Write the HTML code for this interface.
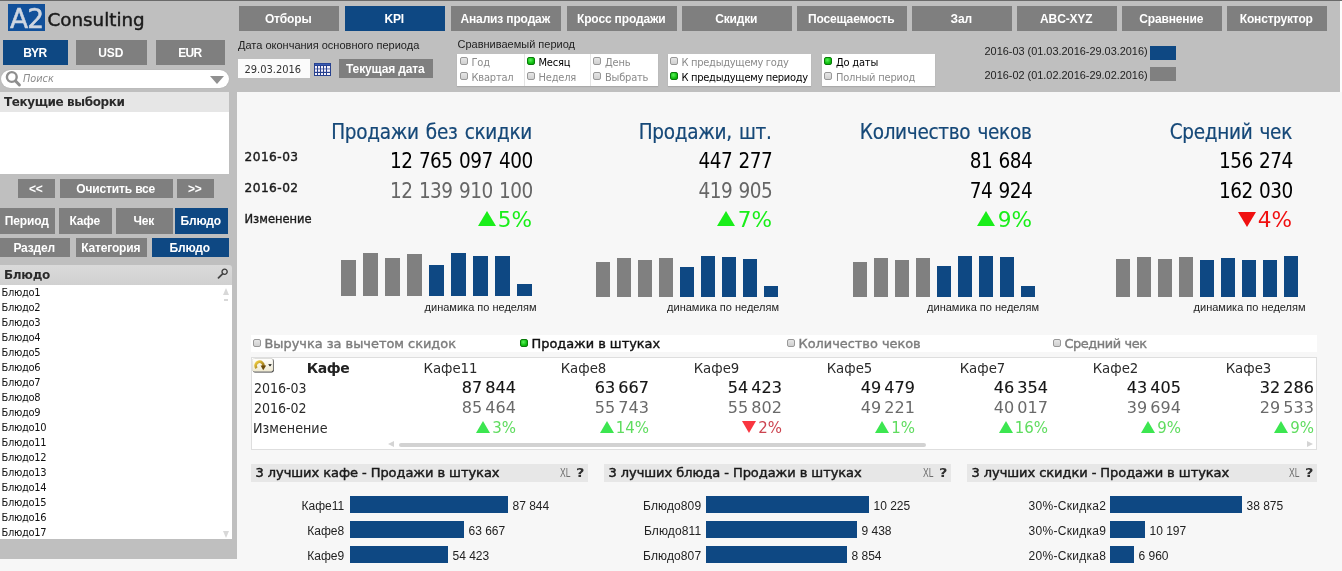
<!DOCTYPE html>
<html lang="ru"><head><meta charset="utf-8"><title>KPI</title>
<style>
*{box-sizing:border-box;margin:0;padding:0}
html,body{width:1342px;height:571px;overflow:hidden;background:#f7f7f7}
body{position:relative;font-family:"Liberation Sans",sans-serif;font-size:12px;color:#000}
.abs,.btn,.t,.bar,.box{position:absolute}
.ar{font-family:"Liberation Sans",sans-serif}
.vd{font-family:"DejaVu Sans",sans-serif}
.th{font-family:"DejaVu Sans Condensed","DejaVu Sans",sans-serif}
.btn{background:#7f7f7f;color:#fff;font:bold 12px "Liberation Sans",sans-serif;text-align:center;white-space:nowrap;letter-spacing:-0.15px}
.btn.on{background:#0e4883}
.t{white-space:nowrap;line-height:1}
.r{text-align:right}
.c{text-align:center}
.bar{background:#0e4883}
.bar.g{background:#808080}
.box{background:#fff}
.rad{position:absolute;width:8px;height:8px;border-radius:2px;border:1px solid #989898;background:linear-gradient(#e6e6e6,#d0d0d0)}
.rad.on{border-color:#0a7a0a;background:radial-gradient(circle at 40% 35%,#5cf05c,#10c010 60%,#0a9a0a)}
.tri{position:absolute;width:0;height:0;border-style:solid}
</style></head><body>

<div class="abs" style="left:0;top:0;width:237px;height:559px;background:#bfbfbf"></div>
<div class="abs" style="left:0;top:0;width:1340px;height:92px;background:#bfbfbf"></div><div class="abs" style="left:1340px;top:1px;width:2px;height:91px;background:#fcfcfc"></div>
<div class="abs" style="left:0;top:0;width:1342px;height:1px;background:#6a6a6a"></div>
<div class="abs" style="left:8px;top:4px;width:37px;height:27px;background:#11509a"></div>
<div class="t vd" style="left:10px;top:5.5px;font-size:26.5px;color:#cfd6e0;letter-spacing:-1px;-webkit-text-stroke:0.5px #cfd6e0">A2</div>
<div class="t vd" style="left:47.5px;top:11px;font-size:18.3px;color:#1a1a1a;-webkit-text-stroke:0.45px #1a1a1a">Consulting</div>
<div class="btn on" style="left:3px;top:40px;width:65px;height:25px;line-height:25px;padding-top:1px;padding-right:1.5px;font-size:12px;letter-spacing:-0.7px">BYR</div>
<div class="btn" style="left:76px;top:40px;width:71px;height:25px;line-height:25px;padding-top:1px;padding-right:1.5px;font-size:12px">USD</div>
<div class="btn" style="left:156px;top:40px;width:69px;height:25px;line-height:25px;padding-top:1px;padding-right:1.5px;font-size:12px;letter-spacing:-0.7px">EUR</div>
<div class="abs" style="left:1px;top:70px;width:228px;height:18px;border-radius:9px;background:#fff;box-shadow:0 0 1px #999"></div>
<svg class="abs" style="left:4px;top:70px" width="18" height="18" viewBox="0 0 18 18"><circle cx="7.8" cy="7" r="4.9" fill="none" stroke="#8e8e8e" stroke-width="2.4"/><line x1="11.6" y1="11" x2="15.4" y2="15" stroke="#8e8e8e" stroke-width="3" stroke-linecap="round"/></svg>
<div class="t th" style="left:23px;top:74px;font-size:10.8px;font-style:italic;color:#8c8c8c">Поиск</div>
<div class="tri" style="left:210px;top:76px;border-width:8px 7.5px 0 7.5px;border-color:#909090 transparent transparent transparent"></div>
<div class="abs" style="left:0;top:92px;width:229px;height:20px;background:#e6e6e6"></div>
<div class="t vd" style="left:4px;top:96px;font-size:12px;font-weight:bold;color:#2a2a2a;letter-spacing:-0.4px">Текущие выборки</div>
<div class="box" style="left:0;top:112px;width:229px;height:61.5px"></div>
<div class="btn" style="left:18px;top:179px;width:37px;height:19px;line-height:19px;padding-top:1px;padding-right:1.5px;font-size:12px">&lt;&lt;</div>
<div class="btn" style="left:60px;top:179px;width:113px;height:19px;line-height:19px;padding-top:1px;padding-right:1.5px;font-size:12px">Очистить все</div>
<div class="btn" style="left:177px;top:179px;width:37px;height:19px;line-height:19px;padding-top:1px;padding-right:1.5px;font-size:12px">&gt;&gt;</div>
<div class="btn" style="left:0px;top:208px;width:55px;height:26px;line-height:26px;padding-top:0px;padding-right:1.5px;font-size:12px">Период</div>
<div class="btn" style="left:59px;top:208px;width:53px;height:26px;line-height:26px;padding-top:0px;padding-right:1.5px;font-size:12px">Кафе</div>
<div class="btn" style="left:116px;top:208px;width:57px;height:26px;line-height:26px;padding-top:0px;padding-right:1.5px;font-size:12px">Чек</div>
<div class="btn on" style="left:175px;top:208px;width:53px;height:26px;line-height:26px;padding-top:0px;padding-right:1.5px;font-size:12px">Блюдо</div>
<div class="btn" style="left:0px;top:238px;width:70px;height:19px;line-height:19px;padding-top:1px;padding-right:1.5px;font-size:12px">Раздел</div>
<div class="btn" style="left:76px;top:238px;width:71px;height:19px;line-height:19px;padding-top:1px;padding-right:1.5px;font-size:12px">Категория</div>
<div class="btn on" style="left:152px;top:238px;width:77px;height:19px;line-height:19px;padding-top:1px;padding-right:1.5px;font-size:12px">Блюдо</div>
<div class="abs" style="left:0;top:264.5px;width:231.5px;height:20.5px;background:linear-gradient(#dadada,#d0d0d0);border-top-right-radius:3px"></div>
<div class="t vd" style="left:4px;top:269px;font-size:12px;font-weight:bold;color:#2a2a2a;letter-spacing:-0.3px">Блюдо</div>
<svg class="abs" style="left:217px;top:268px" width="12" height="11" viewBox="0 0 12 11"><circle cx="7.6" cy="3.8" r="2.6" fill="#d6d6d6" stroke="#3a3a3a" stroke-width="1.3"/><line x1="5.6" y1="5.8" x2="1.5" y2="9.8" stroke="#444" stroke-width="1.8" stroke-linecap="round"/></svg>
<div class="box" style="left:0;top:285px;width:231.5px;height:254px"></div>
<div class="t th" style="left:1.5px;top:287px;font-size:11px;letter-spacing:-0.3px;color:#111">Блюдо1</div>
<div class="t th" style="left:1.5px;top:302px;font-size:11px;letter-spacing:-0.3px;color:#111">Блюдо2</div>
<div class="t th" style="left:1.5px;top:317px;font-size:11px;letter-spacing:-0.3px;color:#111">Блюдо3</div>
<div class="t th" style="left:1.5px;top:332px;font-size:11px;letter-spacing:-0.3px;color:#111">Блюдо4</div>
<div class="t th" style="left:1.5px;top:347px;font-size:11px;letter-spacing:-0.3px;color:#111">Блюдо5</div>
<div class="t th" style="left:1.5px;top:362px;font-size:11px;letter-spacing:-0.3px;color:#111">Блюдо6</div>
<div class="t th" style="left:1.5px;top:377px;font-size:11px;letter-spacing:-0.3px;color:#111">Блюдо7</div>
<div class="t th" style="left:1.5px;top:392px;font-size:11px;letter-spacing:-0.3px;color:#111">Блюдо8</div>
<div class="t th" style="left:1.5px;top:407px;font-size:11px;letter-spacing:-0.3px;color:#111">Блюдо9</div>
<div class="t th" style="left:1.5px;top:422px;font-size:11px;letter-spacing:-0.3px;color:#111">Блюдо10</div>
<div class="t th" style="left:1.5px;top:437px;font-size:11px;letter-spacing:-0.3px;color:#111">Блюдо11</div>
<div class="t th" style="left:1.5px;top:452px;font-size:11px;letter-spacing:-0.3px;color:#111">Блюдо12</div>
<div class="t th" style="left:1.5px;top:467px;font-size:11px;letter-spacing:-0.3px;color:#111">Блюдо13</div>
<div class="t th" style="left:1.5px;top:482px;font-size:11px;letter-spacing:-0.3px;color:#111">Блюдо14</div>
<div class="t th" style="left:1.5px;top:497px;font-size:11px;letter-spacing:-0.3px;color:#111">Блюдо15</div>
<div class="t th" style="left:1.5px;top:512px;font-size:11px;letter-spacing:-0.3px;color:#111">Блюдо16</div>
<div class="t th" style="left:1.5px;top:527px;font-size:11px;letter-spacing:-0.3px;color:#111">Блюдо17</div>
<div class="tri" style="left:223px;top:288px;border-width:0 3px 7px 3px;border-color:transparent transparent #d8d8d8 transparent"></div>
<div class="abs" style="left:224px;top:299px;width:4px;height:2px;background:#d8d8d8"></div>
<div class="tri" style="left:222.5px;top:530.5px;border-width:7px 3px 0 3px;border-color:#d8d8d8 transparent transparent transparent"></div>
<div class="btn" style="left:239px;top:6px;width:100px;height:25px;line-height:25px;padding-top:1px;padding-right:1.5px;font-size:12px">Отборы</div>
<div class="btn on" style="left:345px;top:6px;width:100px;height:25px;line-height:25px;padding-top:1px;padding-right:1.5px;font-size:12px">KPI</div>
<div class="btn" style="left:451px;top:6px;width:110px;height:25px;line-height:25px;padding-top:1px;padding-right:1.5px;font-size:12px">Анализ продаж</div>
<div class="btn" style="left:567px;top:6px;width:110px;height:25px;line-height:25px;padding-top:1px;padding-right:1.5px;font-size:12px">Кросс продажи</div>
<div class="btn" style="left:682px;top:6px;width:110px;height:25px;line-height:25px;padding-top:1px;padding-right:1.5px;font-size:12px">Скидки</div>
<div class="btn" style="left:797px;top:6px;width:110px;height:25px;line-height:25px;padding-top:1px;padding-right:1.5px;font-size:12px">Посещаемость</div>
<div class="btn" style="left:912px;top:6px;width:100px;height:25px;line-height:25px;padding-top:1px;padding-right:1.5px;font-size:12px">Зал</div>
<div class="btn" style="left:1017px;top:6px;width:100px;height:25px;line-height:25px;padding-top:1px;padding-right:1.5px;font-size:12px">ABC-XYZ</div>
<div class="btn" style="left:1122px;top:6px;width:100px;height:25px;line-height:25px;padding-top:1px;padding-right:1.5px;font-size:12px">Сравнение</div>
<div class="btn" style="left:1227px;top:6px;width:100px;height:25px;line-height:25px;padding-top:1px;padding-right:1.5px;font-size:12px">Конструктор</div>
<div class="t ar" style="left:238px;top:40px;font-size:11px;color:#222">Дата окончания основного периода</div>
<div class="box" style="left:238px;top:59px;width:72px;height:19px;background:#fbfbfb"></div>
<div class="t th" style="left:244.5px;top:63.5px;font-size:11px;color:#333">29.03.2016</div>
<svg class="abs" style="left:314px;top:63px" width="17" height="13" viewBox="0 0 17 13"><rect x="0" y="0" width="17" height="13" fill="#27418f"/><rect x="1" y="0.8" width="15" height="1.2" fill="#3a5cb4"/><rect x="1" y="3" width="2" height="2.6" fill="#f4f0fa"/><rect x="1" y="6.3" width="2" height="2.5" fill="#f4f0fa"/><rect x="1" y="10" width="2" height="2" fill="#f4f0fa"/><rect x="4" y="3" width="2" height="2.6" fill="#f4f0fa"/><rect x="4" y="6.3" width="2" height="2.5" fill="#f4f0fa"/><rect x="4" y="10" width="2" height="2" fill="#f4f0fa"/><rect x="7" y="3" width="2" height="2.6" fill="#f4f0fa"/><rect x="7" y="6.3" width="2" height="2.5" fill="#f4f0fa"/><rect x="7" y="10" width="2" height="2" fill="#f4f0fa"/><rect x="10" y="3" width="2" height="2.6" fill="#f4f0fa"/><rect x="10" y="6.3" width="2" height="2.5" fill="#f4f0fa"/><rect x="10" y="10" width="2" height="2" fill="#f4f0fa"/><rect x="13" y="3" width="3" height="2.6" fill="#f4f0fa"/><rect x="13" y="6.3" width="3" height="2.5" fill="#f4f0fa"/><rect x="13" y="10" width="3" height="2" fill="#f4f0fa"/></svg>
<div class="btn" style="left:339px;top:59px;width:94px;height:19px;line-height:19px;padding-top:1px;padding-right:1.5px;font-size:12px">Текущая дата</div>
<div class="t ar" style="left:457.5px;top:39px;font-size:11px;color:#222">Сравниваемый период</div>
<div class="box" style="left:457px;top:54px;width:201px;height:32px;box-shadow:0 1px 1px #aaa"></div>
<div class="abs" style="left:524px;top:54px;width:1px;height:32px;background:#e4e4e4"></div>
<div class="abs" style="left:590px;top:54px;width:1px;height:32px;background:#e4e4e4"></div>
<div class="rad" style="left:460px;top:57px"></div>
<div class="t th" style="left:471.5px;top:57px;font-size:11px;color:#8a8a8a;letter-spacing:-0.2px">Год</div>
<div class="rad" style="left:460px;top:72px"></div>
<div class="t th" style="left:471.5px;top:72px;font-size:11px;color:#8a8a8a;letter-spacing:-0.2px">Квартал</div>
<div class="rad on" style="left:527px;top:57px"></div>
<div class="t th" style="left:538.5px;top:57px;font-size:11px;color:#000;letter-spacing:-0.2px">Месяц</div>
<div class="rad" style="left:527px;top:72px"></div>
<div class="t th" style="left:538.5px;top:72px;font-size:11px;color:#8a8a8a;letter-spacing:-0.2px">Неделя</div>
<div class="rad" style="left:593px;top:57px"></div>
<div class="t th" style="left:605px;top:57px;font-size:11px;color:#8a8a8a;letter-spacing:-0.2px">День</div>
<div class="rad" style="left:593px;top:72px"></div>
<div class="t th" style="left:605px;top:72px;font-size:11px;color:#8a8a8a;letter-spacing:-0.2px">Выбрать</div>
<div class="box" style="left:668px;top:54px;width:143px;height:32px;box-shadow:0 1px 1px #aaa"></div>
<div class="rad" style="left:670px;top:57px"></div>
<div class="t th" style="left:681.5px;top:57px;font-size:11px;color:#8a8a8a;letter-spacing:-0.28px">К предыдущему году</div>
<div class="rad on" style="left:670px;top:72px"></div>
<div class="t th" style="left:681.5px;top:72px;font-size:11px;color:#000;letter-spacing:-0.28px">К предыдущему периоду</div>
<div class="box" style="left:822px;top:54px;width:113px;height:32px;box-shadow:0 1px 1px #aaa"></div>
<div class="rad on" style="left:824px;top:57px"></div>
<div class="t th" style="left:836px;top:57px;font-size:11px;color:#000;letter-spacing:-0.2px">До даты</div>
<div class="rad" style="left:824px;top:72px"></div>
<div class="t th" style="left:836px;top:72px;font-size:11px;color:#8a8a8a;letter-spacing:-0.2px">Полный период</div>
<div class="t ar" style="left:984.5px;top:46px;font-size:10.92px;color:#222">2016-03 (01.03.2016-29.03.2016)</div>
<div class="t ar" style="left:984.5px;top:70px;font-size:10.92px;color:#222">2016-02 (01.02.2016-29.02.2016)</div>
<div class="abs" style="left:1150px;top:46px;width:26px;height:14px;background:#0e4883"></div>
<div class="abs" style="left:1150px;top:67px;width:26px;height:14px;background:#808080"></div>
<div class="t vd" style="left:244.5px;top:151px;font-size:12.2px;color:#1a1a1a;letter-spacing:0.45px;-webkit-text-stroke:0.4px #1a1a1a">2016-03</div>
<div class="t vd" style="left:244.5px;top:182px;font-size:12.2px;color:#1a1a1a;letter-spacing:0.45px;-webkit-text-stroke:0.4px #1a1a1a">2016-02</div>
<div class="t vd" style="left:244.5px;top:214px;font-size:11.5px;color:#1a1a1a;-webkit-text-stroke:0.35px #1a1a1a">Изменение</div>
<div class="t th r" style="left:132px;width:400px;top:122px;font-size:20.5px;letter-spacing:-0.3px;word-spacing:1.6px;color:#154878;-webkit-text-stroke:0.2px #154878">Продажи без скидки</div>
<div class="t th r" style="left:132px;width:400px;top:151px;font-size:20.5px;letter-spacing:-0.5px;word-spacing:1px;margin-left:0.7px;color:#000">12 765 097 400</div>
<div class="t th r" style="left:132px;width:400px;top:181px;font-size:20.5px;letter-spacing:-0.5px;word-spacing:1px;margin-left:0.7px;color:#666">12 139 910 100</div>
<div class="t th r" style="left:132px;width:400px;top:210px;font-size:20.5px;color:#1aee1a;transform:scaleX(1.17);transform-origin:right">5%</div>
<div class="tri" style="left:478px;top:211px;border-width:0 9px 15px 9px;border-color:transparent transparent #1aee1a transparent"></div>
<div class="t th r" style="left:371.5px;width:400px;top:122px;font-size:20.5px;letter-spacing:-0.3px;word-spacing:1.6px;color:#154878;-webkit-text-stroke:0.2px #154878">Продажи, шт.</div>
<div class="t th r" style="left:371.5px;width:400px;top:151px;font-size:20.5px;letter-spacing:-0.5px;word-spacing:1px;margin-left:0.7px;color:#000">447 277</div>
<div class="t th r" style="left:371.5px;width:400px;top:181px;font-size:20.5px;letter-spacing:-0.5px;word-spacing:1px;margin-left:0.7px;color:#666">419 905</div>
<div class="t th r" style="left:371.5px;width:400px;top:210px;font-size:20.5px;color:#1aee1a;transform:scaleX(1.17);transform-origin:right">7%</div>
<div class="tri" style="left:717px;top:211px;border-width:0 9px 15px 9px;border-color:transparent transparent #1aee1a transparent"></div>
<div class="t th r" style="left:631.5px;width:400px;top:122px;font-size:20.5px;letter-spacing:-0.3px;word-spacing:1.6px;color:#154878;-webkit-text-stroke:0.2px #154878">Количество чеков</div>
<div class="t th r" style="left:631.5px;width:400px;top:151px;font-size:20.5px;letter-spacing:-0.5px;word-spacing:1px;margin-left:0.7px;color:#000">81 684</div>
<div class="t th r" style="left:631.5px;width:400px;top:181px;font-size:20.5px;letter-spacing:-0.5px;word-spacing:1px;margin-left:0.7px;color:#000">74 924</div>
<div class="t th r" style="left:631.5px;width:400px;top:210px;font-size:20.5px;color:#1aee1a;transform:scaleX(1.17);transform-origin:right">9%</div>
<div class="tri" style="left:976.5px;top:211px;border-width:0 9px 15px 9px;border-color:transparent transparent #1aee1a transparent"></div>
<div class="t th r" style="left:892px;width:400px;top:122px;font-size:20.5px;letter-spacing:-0.3px;word-spacing:1.6px;color:#154878;-webkit-text-stroke:0.2px #154878">Средний чек</div>
<div class="t th r" style="left:892px;width:400px;top:151px;font-size:20.5px;letter-spacing:-0.5px;word-spacing:1px;margin-left:0.7px;color:#000">156 274</div>
<div class="t th r" style="left:892px;width:400px;top:181px;font-size:20.5px;letter-spacing:-0.5px;word-spacing:1px;margin-left:0.7px;color:#000">162 030</div>
<div class="t th r" style="left:892px;width:400px;top:210px;font-size:20.5px;color:#f01010;transform:scaleX(1.17);transform-origin:right">4%</div>
<div class="tri" style="left:1238px;top:212px;border-width:15px 9px 0 9px;border-color:#f01010 transparent transparent transparent"></div>
<div class="bar g" style="left:341px;top:260px;width:15px;height:36px"></div>
<div class="bar g" style="left:363px;top:253px;width:15px;height:43px"></div>
<div class="bar g" style="left:385px;top:258px;width:15px;height:38px"></div>
<div class="bar g" style="left:407px;top:254px;width:15px;height:42px"></div>
<div class="bar" style="left:429px;top:265px;width:15px;height:31px"></div>
<div class="bar" style="left:451px;top:253px;width:15px;height:43px"></div>
<div class="bar" style="left:473px;top:256px;width:15px;height:40px"></div>
<div class="bar" style="left:495px;top:256px;width:15px;height:40px"></div>
<div class="bar" style="left:517px;top:284px;width:15px;height:12px"></div>
<div class="t ar r" style="left:336.5px;width:200px;top:302px;font-size:11px;color:#222">динамика по неделям</div>
<div class="bar g" style="left:596px;top:262px;width:14px;height:35px"></div>
<div class="bar g" style="left:617px;top:258px;width:14px;height:39px"></div>
<div class="bar g" style="left:638px;top:260px;width:14px;height:37px"></div>
<div class="bar g" style="left:659px;top:258px;width:14px;height:39px"></div>
<div class="bar" style="left:680px;top:267px;width:14px;height:30px"></div>
<div class="bar" style="left:701px;top:256px;width:14px;height:41px"></div>
<div class="bar" style="left:722px;top:257px;width:14px;height:40px"></div>
<div class="bar" style="left:743px;top:259px;width:14px;height:38px"></div>
<div class="bar" style="left:764px;top:286px;width:14px;height:11px"></div>
<div class="t ar r" style="left:579px;width:200px;top:302px;font-size:11px;color:#222">динамика по неделям</div>
<div class="bar g" style="left:853px;top:262px;width:14px;height:35px"></div>
<div class="bar g" style="left:874px;top:258px;width:14px;height:39px"></div>
<div class="bar g" style="left:895px;top:260px;width:14px;height:37px"></div>
<div class="bar g" style="left:916px;top:258px;width:14px;height:39px"></div>
<div class="bar" style="left:937px;top:266px;width:14px;height:31px"></div>
<div class="bar" style="left:958px;top:256px;width:14px;height:41px"></div>
<div class="bar" style="left:979px;top:256px;width:14px;height:41px"></div>
<div class="bar" style="left:1000px;top:257px;width:14px;height:40px"></div>
<div class="bar" style="left:1021px;top:286px;width:14px;height:11px"></div>
<div class="t ar r" style="left:839px;width:200px;top:302px;font-size:11px;color:#222">динамика по неделям</div>
<div class="bar g" style="left:1116px;top:259px;width:14px;height:38px"></div>
<div class="bar g" style="left:1137px;top:257px;width:14px;height:40px"></div>
<div class="bar g" style="left:1158px;top:259px;width:14px;height:38px"></div>
<div class="bar g" style="left:1179px;top:257px;width:14px;height:40px"></div>
<div class="bar" style="left:1200px;top:260px;width:14px;height:37px"></div>
<div class="bar" style="left:1221px;top:258px;width:14px;height:39px"></div>
<div class="bar" style="left:1242px;top:260px;width:14px;height:37px"></div>
<div class="bar" style="left:1263px;top:260px;width:14px;height:37px"></div>
<div class="bar" style="left:1284px;top:256px;width:14px;height:41px"></div>
<div class="t ar r" style="left:1105.5px;width:200px;top:302px;font-size:11px;color:#222">динамика по неделям</div>
<div class="box" style="left:251px;top:335px;width:1066px;height:17px"></div>
<div class="rad" style="left:253px;top:339px"></div>
<div class="t vd" style="left:264.5px;top:338px;font-size:12.9px;letter-spacing:0px;color:#7d7d7d;-webkit-text-stroke:0.4px #7d7d7d">Выручка за вычетом скидок</div>
<div class="rad on" style="left:520px;top:339px"></div>
<div class="t vd" style="left:531.5px;top:338px;font-size:12.9px;letter-spacing:0px;color:#111;-webkit-text-stroke:0.4px #111">Продажи в штуках</div>
<div class="rad" style="left:787px;top:339px"></div>
<div class="t vd" style="left:798.5px;top:338px;font-size:12.9px;letter-spacing:0px;color:#7d7d7d;-webkit-text-stroke:0.4px #7d7d7d">Количество чеков</div>
<div class="rad" style="left:1053px;top:339px"></div>
<div class="t vd" style="left:1064.5px;top:338px;font-size:12.9px;letter-spacing:-0.42px;color:#7d7d7d;-webkit-text-stroke:0.4px #7d7d7d">Средний чек</div>
<div class="box" style="left:251px;top:357px;width:1066px;height:93px;border:1px solid #dedede"></div>
<svg class="abs" style="left:252px;top:358px" width="23" height="16" viewBox="0 0 23 16"><defs><linearGradient id="cb" x1="0" y1="0" x2="0" y2="1"><stop offset="0" stop-color="#ffffff"/><stop offset="1" stop-color="#efe9cf"/></linearGradient><linearGradient id="cg" x1="0" y1="0" x2="1" y2="1"><stop offset="0" stop-color="#f2d040"/><stop offset="1" stop-color="#8a6410"/></linearGradient></defs><rect x="0.8" y="0.8" width="21" height="13.6" rx="2.2" fill="#2c2c2c"/><rect x="0.3" y="0.4" width="20.7" height="13.2" rx="2" fill="url(#cb)" stroke="#d8d8d0" stroke-width="0.5"/><path d="M4.6 10.2 A3.9 3.9 0 1 1 11.4 8.2" fill="none" stroke="url(#cg)" stroke-width="2.7"/><path d="M8.6 7.6 L14.2 7.6 L11.2 12.3 Z" fill="#6b4a08"/><path d="M16.2 6.3 L19.8 6.3 L18 8.6 Z" fill="#111"/></svg>
<div class="t vd c" style="left:252px;width:152px;top:361px;font-size:14px;font-weight:bold;color:#222;letter-spacing:-0.5px">Кафе</div>
<div class="t th" style="left:254px;top:381px;font-size:14px;color:#2a2a2a">2016-03</div>
<div class="t th" style="left:254px;top:401px;font-size:14px;color:#2a2a2a">2016-02</div>
<div class="t th" style="left:253px;top:421px;font-size:14.2px;color:#2a2a2a">Изменение</div>
<div class="t th c" style="left:384px;width:133px;top:361px;font-size:14.8px;color:#2a2a2a">Кафе11</div>
<div class="t vd r" style="left:396px;width:120px;top:381px;font-size:15px;color:#151515;-webkit-text-stroke:0.12px #151515;word-spacing:-1.8px;transform:scaleX(1.07);transform-origin:right">87 844</div>
<div class="t vd r" style="left:396px;width:120px;top:401px;font-size:15px;color:#6a6a6a;word-spacing:-1.8px;transform:scaleX(1.07);transform-origin:right">85 464</div>
<div class="t vd r" style="left:396px;width:120px;top:421px;font-size:15px;color:#5fdc5f"><span style="display:inline-block;width:0;height:0;border-style:solid;border-width:0 7.5px 12.5px 7.5px;border-color:transparent transparent #3ce650 transparent;margin-right:2px;vertical-align:baseline"></span>3%</div>
<div class="t th c" style="left:517px;width:133px;top:361px;font-size:14.8px;color:#2a2a2a">Кафе8</div>
<div class="t vd r" style="left:529px;width:120px;top:381px;font-size:15px;color:#151515;-webkit-text-stroke:0.12px #151515;word-spacing:-1.8px;transform:scaleX(1.07);transform-origin:right">63 667</div>
<div class="t vd r" style="left:529px;width:120px;top:401px;font-size:15px;color:#6a6a6a;word-spacing:-1.8px;transform:scaleX(1.07);transform-origin:right">55 743</div>
<div class="t vd r" style="left:529px;width:120px;top:421px;font-size:15px;color:#5fdc5f"><span style="display:inline-block;width:0;height:0;border-style:solid;border-width:0 7.5px 12.5px 7.5px;border-color:transparent transparent #3ce650 transparent;margin-right:2px;vertical-align:baseline"></span>14%</div>
<div class="t th c" style="left:650px;width:133px;top:361px;font-size:14.8px;color:#2a2a2a">Кафе9</div>
<div class="t vd r" style="left:662px;width:120px;top:381px;font-size:15px;color:#151515;-webkit-text-stroke:0.12px #151515;word-spacing:-1.8px;transform:scaleX(1.07);transform-origin:right">54 423</div>
<div class="t vd r" style="left:662px;width:120px;top:401px;font-size:15px;color:#6a6a6a;word-spacing:-1.8px;transform:scaleX(1.07);transform-origin:right">55 802</div>
<div class="t vd r" style="left:662px;width:120px;top:421px;font-size:15px;color:#cc4450"><span style="display:inline-block;width:0;height:0;border-style:solid;border-width:12.5px 7.5px 0 7.5px;border-color:#f93640 transparent transparent transparent;margin-right:2px;vertical-align:baseline"></span>2%</div>
<div class="t th c" style="left:783px;width:133px;top:361px;font-size:14.8px;color:#2a2a2a">Кафе5</div>
<div class="t vd r" style="left:795px;width:120px;top:381px;font-size:15px;color:#151515;-webkit-text-stroke:0.12px #151515;word-spacing:-1.8px;transform:scaleX(1.07);transform-origin:right">49 479</div>
<div class="t vd r" style="left:795px;width:120px;top:401px;font-size:15px;color:#6a6a6a;word-spacing:-1.8px;transform:scaleX(1.07);transform-origin:right">49 221</div>
<div class="t vd r" style="left:795px;width:120px;top:421px;font-size:15px;color:#5fdc5f"><span style="display:inline-block;width:0;height:0;border-style:solid;border-width:0 7.5px 12.5px 7.5px;border-color:transparent transparent #3ce650 transparent;margin-right:2px;vertical-align:baseline"></span>1%</div>
<div class="t th c" style="left:916px;width:133px;top:361px;font-size:14.8px;color:#2a2a2a">Кафе7</div>
<div class="t vd r" style="left:928px;width:120px;top:381px;font-size:15px;color:#151515;-webkit-text-stroke:0.12px #151515;word-spacing:-1.8px;transform:scaleX(1.07);transform-origin:right">46 354</div>
<div class="t vd r" style="left:928px;width:120px;top:401px;font-size:15px;color:#6a6a6a;word-spacing:-1.8px;transform:scaleX(1.07);transform-origin:right">40 017</div>
<div class="t vd r" style="left:928px;width:120px;top:421px;font-size:15px;color:#5fdc5f"><span style="display:inline-block;width:0;height:0;border-style:solid;border-width:0 7.5px 12.5px 7.5px;border-color:transparent transparent #3ce650 transparent;margin-right:2px;vertical-align:baseline"></span>16%</div>
<div class="t th c" style="left:1049px;width:133px;top:361px;font-size:14.8px;color:#2a2a2a">Кафе2</div>
<div class="t vd r" style="left:1061px;width:120px;top:381px;font-size:15px;color:#151515;-webkit-text-stroke:0.12px #151515;word-spacing:-1.8px;transform:scaleX(1.07);transform-origin:right">43 405</div>
<div class="t vd r" style="left:1061px;width:120px;top:401px;font-size:15px;color:#6a6a6a;word-spacing:-1.8px;transform:scaleX(1.07);transform-origin:right">39 694</div>
<div class="t vd r" style="left:1061px;width:120px;top:421px;font-size:15px;color:#5fdc5f"><span style="display:inline-block;width:0;height:0;border-style:solid;border-width:0 7.5px 12.5px 7.5px;border-color:transparent transparent #3ce650 transparent;margin-right:2px;vertical-align:baseline"></span>9%</div>
<div class="t th c" style="left:1182px;width:133px;top:361px;font-size:14.8px;color:#2a2a2a">Кафе3</div>
<div class="t vd r" style="left:1194px;width:120px;top:381px;font-size:15px;color:#151515;-webkit-text-stroke:0.12px #151515;word-spacing:-1.8px;transform:scaleX(1.07);transform-origin:right">32 286</div>
<div class="t vd r" style="left:1194px;width:120px;top:401px;font-size:15px;color:#6a6a6a;word-spacing:-1.8px;transform:scaleX(1.07);transform-origin:right">29 533</div>
<div class="t vd r" style="left:1194px;width:120px;top:421px;font-size:15px;color:#5fdc5f"><span style="display:inline-block;width:0;height:0;border-style:solid;border-width:0 7.5px 12.5px 7.5px;border-color:transparent transparent #3ce650 transparent;margin-right:2px;vertical-align:baseline"></span>9%</div>
<div class="tri" style="left:388px;top:441px;border-width:3.5px 6px 3.5px 0;border-color:transparent #d4d4d4 transparent transparent"></div>
<div class="abs" style="left:399px;top:442.5px;width:527px;height:4px;border-radius:2px;background:#d2d2d2"></div>
<div class="tri" style="left:1307px;top:441px;border-width:3.5px 0 3.5px 6px;border-color:transparent transparent transparent #d4d4d4"></div>
<div class="abs" style="left:251px;top:464px;width:337px;height:18px;background:#e7e7e7"></div>
<div class="t vd" style="left:255.5px;top:466px;font-size:13px;color:#1a1a1a;letter-spacing:-0.06px;-webkit-text-stroke:0.45px #1a1a1a">3 лучших кафе - Продажи в штуках</div>
<div class="t ar" style="left:559.5px;top:465.5px;font-size:13px;color:#6e6e6e;transform:scaleX(0.66);transform-origin:left">XL</div>
<div class="t vd" style="left:575.5px;top:466px;font-size:13px;font-weight:bold;color:#303030;transform:scaleX(1.12);transform-origin:left">?</div>
<div class="t ar r" style="left:224.2px;width:120px;top:499.5px;font-size:12px;letter-spacing:0px;color:#222">Кафе11</div>
<div class="bar" style="left:350px;top:496px;width:158px;height:17px"></div>
<div class="t ar" style="left:512.5px;top:499.5px;font-size:12px;color:#222">87 844</div>
<div class="t ar r" style="left:224.2px;width:120px;top:524.5px;font-size:12px;letter-spacing:0px;color:#222">Кафе8</div>
<div class="bar" style="left:350px;top:521px;width:114px;height:17px"></div>
<div class="t ar" style="left:468.5px;top:524.5px;font-size:12px;color:#222">63 667</div>
<div class="t ar r" style="left:224.2px;width:120px;top:549.5px;font-size:12px;letter-spacing:0px;color:#222">Кафе9</div>
<div class="bar" style="left:350px;top:546px;width:98px;height:17px"></div>
<div class="t ar" style="left:452.5px;top:549.5px;font-size:12px;color:#222">54 423</div>
<div class="abs" style="left:604px;top:464px;width:347px;height:18px;background:#e7e7e7"></div>
<div class="t vd" style="left:608.5px;top:466px;font-size:13px;color:#1a1a1a;letter-spacing:-0.06px;-webkit-text-stroke:0.45px #1a1a1a">3 лучших блюда - Продажи в штуках</div>
<div class="t ar" style="left:922.5px;top:465.5px;font-size:13px;color:#6e6e6e;transform:scaleX(0.66);transform-origin:left">XL</div>
<div class="t vd" style="left:938.5px;top:466px;font-size:13px;font-weight:bold;color:#303030;transform:scaleX(1.12);transform-origin:left">?</div>
<div class="t ar r" style="left:581.2px;width:120px;top:499.5px;font-size:12px;letter-spacing:0.12px;color:#222">Блюдо809</div>
<div class="bar" style="left:706px;top:496px;width:163px;height:17px"></div>
<div class="t ar" style="left:873.5px;top:499.5px;font-size:12px;color:#222">10 225</div>
<div class="t ar r" style="left:581.2px;width:120px;top:524.5px;font-size:12px;letter-spacing:0.12px;color:#222">Блюдо811</div>
<div class="bar" style="left:706px;top:521px;width:151px;height:17px"></div>
<div class="t ar" style="left:861.5px;top:524.5px;font-size:12px;color:#222">9 438</div>
<div class="t ar r" style="left:581.2px;width:120px;top:549.5px;font-size:12px;letter-spacing:0.12px;color:#222">Блюдо807</div>
<div class="bar" style="left:706px;top:546px;width:141px;height:17px"></div>
<div class="t ar" style="left:851.5px;top:549.5px;font-size:12px;color:#222">8 854</div>
<div class="abs" style="left:967px;top:464px;width:350px;height:18px;background:#e7e7e7"></div>
<div class="t vd" style="left:971.5px;top:466px;font-size:13px;color:#1a1a1a;letter-spacing:-0.06px;-webkit-text-stroke:0.45px #1a1a1a">3 лучших скидки - Продажи в штуках</div>
<div class="t ar" style="left:1288.5px;top:465.5px;font-size:13px;color:#6e6e6e;transform:scaleX(0.66);transform-origin:left">XL</div>
<div class="t vd" style="left:1304.5px;top:466px;font-size:13px;font-weight:bold;color:#303030;transform:scaleX(1.12);transform-origin:left">?</div>
<div class="t ar r" style="left:986.2px;width:120px;top:499.5px;font-size:12px;letter-spacing:0.28px;color:#222">30%-Скидка2</div>
<div class="bar" style="left:1110px;top:496px;width:132px;height:17px"></div>
<div class="t ar" style="left:1246.5px;top:499.5px;font-size:12px;color:#222">38 875</div>
<div class="t ar r" style="left:986.2px;width:120px;top:524.5px;font-size:12px;letter-spacing:0.28px;color:#222">30%-Скидка9</div>
<div class="bar" style="left:1110px;top:521px;width:35px;height:17px"></div>
<div class="t ar" style="left:1149.5px;top:524.5px;font-size:12px;color:#222">10 197</div>
<div class="t ar r" style="left:986.2px;width:120px;top:549.5px;font-size:12px;letter-spacing:0.28px;color:#222">20%-Скидка8</div>
<div class="bar" style="left:1110px;top:546px;width:24px;height:17px"></div>
<div class="t ar" style="left:1138.5px;top:549.5px;font-size:12px;color:#222">6 960</div>
</body></html>
